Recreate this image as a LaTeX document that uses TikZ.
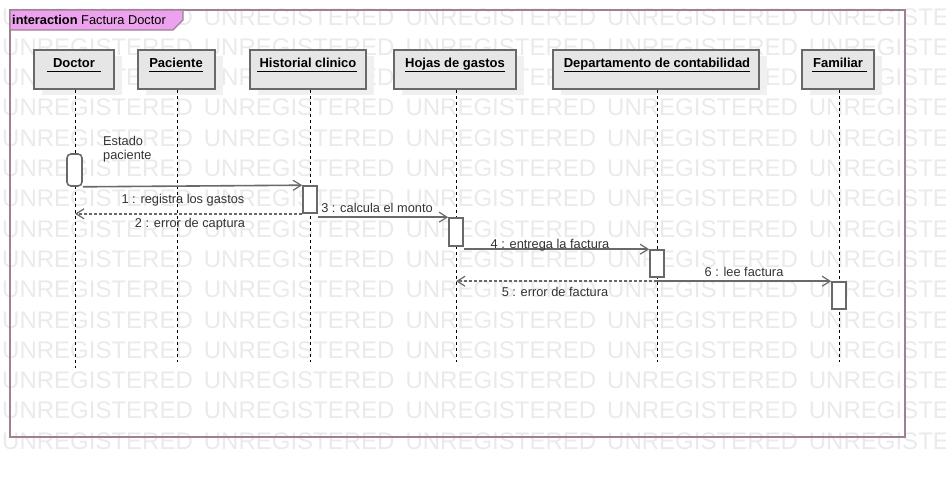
\documentclass[tikz,border=0pt]{standalone}
\usepackage{fontspec}
\setmainfont{Liberation Sans}
\usetikzlibrary{arrows.meta,shadows}
\definecolor{framec}{RGB}{158,128,148}
\definecolor{tabc}{RGB}{236,162,236}
\definecolor{boxfill}{RGB}{230,230,230}
\definecolor{boxline}{RGB}{105,105,105}
\definecolor{msgc}{RGB}{105,105,105}
\definecolor{wmc}{RGB}{234,234,234}
\definecolor{shadowc}{RGB}{240,240,240}
\begin{document}
\begin{tikzpicture}[x=1pt,y=-1pt,
  actorbox/.style={draw=boxline,line width=1.6pt,fill=boxfill,minimum height=39pt,inner sep=0pt,
    general shadow={fill=shadowc,draw=none,shadow xshift=8pt,shadow yshift=-6pt}},
  actorname/.style={font=\fontsize{13}{15}\selectfont\bfseries,inner sep=0pt,anchor=base},
  uline/.style={draw=black,line width=1pt},
  lifeline/.style={draw=black,line width=0.9pt,dash pattern=on 3pt off 3pt},
  actbox/.style={draw=boxline,line width=1.6pt,fill=white,minimum width=14pt,inner sep=0pt},
  msg/.style={draw=msgc,line width=1.6pt,-{Straight Barb[length=8pt,width=10pt,line width=1.2pt]}},
  reply/.style={msg,dash pattern=on 3pt off 2pt},
  msglabel/.style={font=\fontsize{12.8}{15}\selectfont,text=black!80,inner sep=0pt},
  wm/.style={font=\fontsize{24}{26}\selectfont,text=wmc,inner sep=0pt,anchor=west}
]
\useasboundingbox (0,0) rectangle (946,477);
\begin{scope}
\clip (0,0) rectangle (946,477);
% watermark
\foreach \k in {0,...,14}{
  \node[wm] (wm\k) at (2,{441-30.3*\k})
    {UNREGISTERED\hspace{11pt}UNREGISTERED\hspace{11pt}UNREGISTERED\hspace{11pt}UNREGISTERED\hspace{11pt}UNREGISTERED};
}
\end{scope}
% frame
\draw[framec,line width=1.5pt] (10,10) rectangle (905,437);
\draw[framec,line width=1.2pt,fill=tabc] (10,10) -- (183,10) -- (183,20) -- (173,30) -- (10,30) -- cycle;
\node[font=\fontsize{12.8}{15}\selectfont,inner sep=0pt,anchor=west] (title) at (12,20)
  {\textbf{interaction} Factura Doctor};

% actor boxes
\node[actorbox,minimum width=80pt]  (bDoc) at (74,69.5) {};
\node[actorbox,minimum width=77pt]  (bPac) at (176.5,69.5) {};
\node[actorbox,minimum width=116pt] (bHis) at (308,69.5) {};
\node[actorbox,minimum width=122pt] (bHoj) at (455,69.5) {};
\node[actorbox,minimum width=206pt] (bDep) at (656,69.5) {};
\node[actorbox,minimum width=72pt]  (bFam) at (838,69.5) {};

% actor names
\node[actorname] (lDoc) at (74,67) {Doctor};
\node[actorname] (lPac) at (176,67) {Paciente};
\node[actorname] (lHis) at (308,67) {Historial clinico};
\node[actorname] (lHoj) at (455,67) {Hojas de gastos};
\node[actorname] (lDep) at (657,67) {Departamento de contabilidad};
\node[actorname] (lFam) at (838,67) {Familiar};
\draw[uline] ([xshift=-6pt,yshift=-4pt]lDoc.base west) -- ([xshift=6pt,yshift=-4pt]lDoc.base east);
\draw[uline] ([yshift=-4pt]lPac.base west) -- ([yshift=-4pt]lPac.base east);
\draw[uline] ([xshift=-2pt,yshift=-4pt]lHis.base west) -- ([yshift=-4pt]lHis.base east);
\draw[uline] ([yshift=-4pt]lHoj.base west) -- ([yshift=-4pt]lHoj.base east);
\draw[uline] ([yshift=-4pt]lDep.base west) -- ([yshift=-4pt]lDep.base east);
\draw[uline] ([xshift=-1pt,yshift=-4pt]lFam.base west) -- ([xshift=4pt,yshift=-4pt]lFam.base east);

% lifeline ends
\coordinate (eDoc) at (75,368);
\coordinate (ePac) at (177,362);
\coordinate (eHis) at (310,362);
\coordinate (eHoj) at (456,362);
\coordinate (eDep) at (657,362);
\coordinate (eFam) at (839,362);
\draw[lifeline] (bDoc.south -| eDoc) -- (eDoc);
\draw[lifeline] (bPac.south -| ePac) -- (ePac);
\draw[lifeline] (bHis.south -| eHis) -- (eHis);
\draw[lifeline] (bHoj.south -| eHoj) -- (eHoj);
\draw[lifeline] (bDep.south -| eDep) -- (eDep);
\draw[lifeline] (bFam.south -| eFam) -- (eFam);

% activations
\node[actbox,rounded corners=4pt,minimum width=15pt,minimum height=32pt] (aDoc) at (74.5,170) {};
\node[actbox,minimum height=27pt] (aHis) at (310,199.5) {};
\node[actbox,minimum height=28pt] (aHoj) at (456,232) {};
\node[actbox,minimum height=27pt] (aDep) at (657,263.5) {};
\node[actbox,minimum height=27pt] (aFam) at (839,295.5) {};

\node[font=\fontsize{12.8}{14}\selectfont,text=black!80,inner sep=0pt,anchor=north west,align=left] (estado) at (103,136)
  {Estado\\paciente};

% messages
\draw[msg] (aDoc.south east) -- (aHis.north west);
\draw[reply] (aHis.south west) -- (aHis.south west -| eDoc);
\draw[msg] (aHoj.north west -| aHis.east) -- (aHoj.north west);
\draw[msg] (aDep.north west -| aHoj.east) -- (aDep.north west);
\draw[reply] (aFam.north west -| eDep) -- (aFam.north west -| eHoj);
\draw[msg] (aFam.north west -| eDep) -- (aFam.north west);

% message labels
\node[msglabel] (t1) at (183,200) {1 : registra los gastos};
\node[msglabel] (t2) at (190,224.5) {2 : error de captura};
\node[msglabel] (t3) at (377,208) {3 : calcula el monto};
\node[msglabel] (t4) at (550,245) {4 : entrega la factura};
\node[msglabel] (t5) at (555,292) {5 : error de factura};
\node[msglabel] (t6) at (744,272) {6 : lee factura};
\end{tikzpicture}
\end{document}
